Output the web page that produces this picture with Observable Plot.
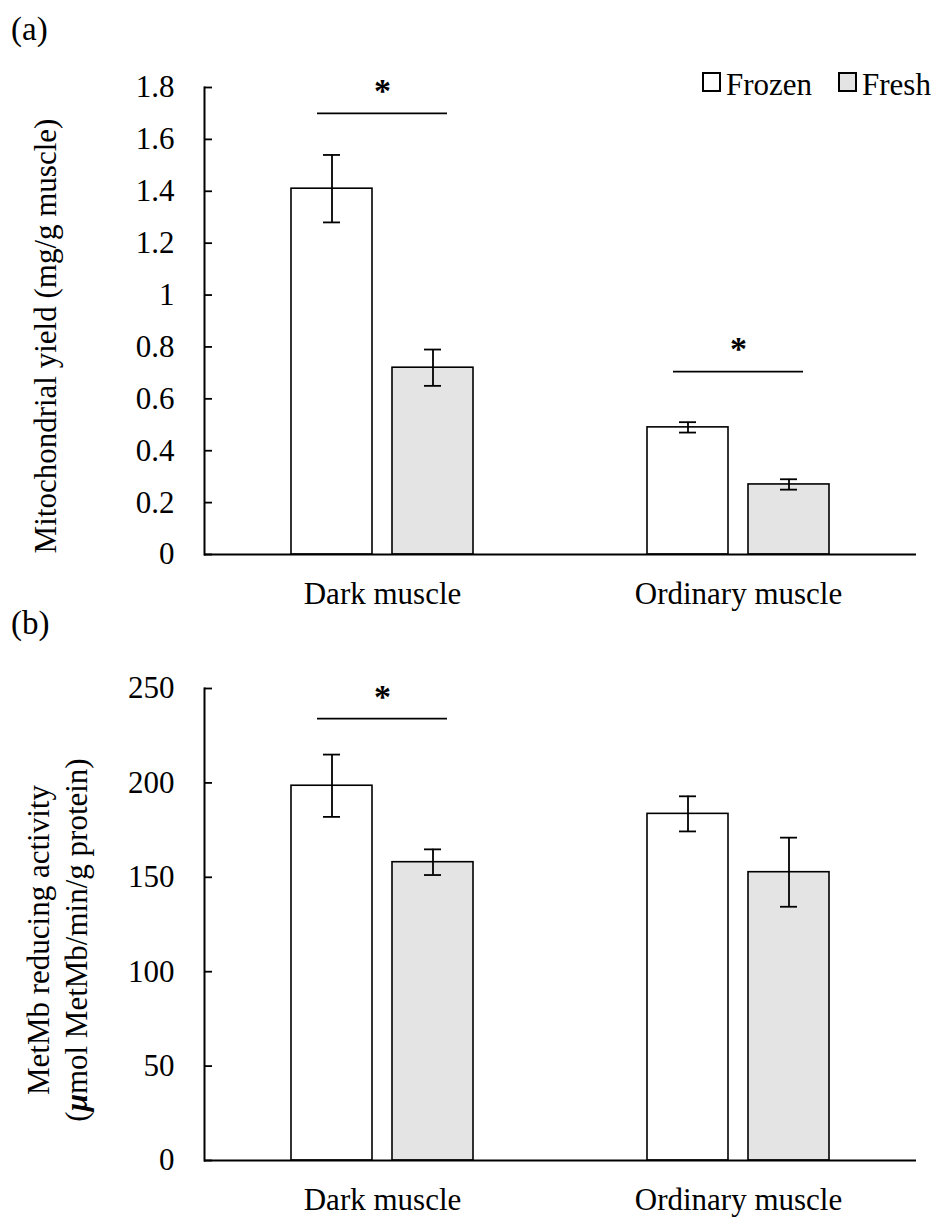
<!DOCTYPE html>
<html>
<head>
<meta charset="utf-8">
<script src="https://cdn.jsdelivr.net/npm/d3@7"></script>
<script src="https://cdn.jsdelivr.net/npm/@observablehq/plot@0.6"></script>
<style>
  html, body { margin: 0; padding: 0; background: #fff; }
  #wrap { position: relative; width: 938px; height: 1217px; font-family: "Liberation Serif", "Times New Roman", serif; color: #000; }
  .abs { position: absolute; white-space: nowrap; line-height: 1; }
  .rot { transform: translate(-50%, -50%) rotate(-90deg); text-align: center; }
  .sw { display: inline-block; width: 15px; height: 16px; border: 2px solid #000; }
</style>
</head>
<body>
<div id="wrap"></div>
<script>
// ---- data ----
const muscles = ["Dark muscle", "Ordinary muscle"];
const conditions = ["Frozen", "Fresh"];
const conditionFills = ["#ffffff", "#e4e4e4"];

// order: Dark-Frozen, Dark-Fresh, Ordinary-Frozen, Ordinary-Fresh
const yieldMean = [1.41, 0.72, 0.49, 0.27];
const yieldErr  = [0.13, 0.07, 0.02, 0.02];
const metmbMean = [198.5, 158.0, 183.6, 152.7];
const metmbErr  = [16.5, 6.8, 9.3, 18.3];

const yieldTicks = [0, 0.2, 0.4, 0.6, 0.8, 1, 1.2, 1.4, 1.6, 1.8];
const yieldTickLabels = ["0", "0.2", "0.4", "0.6", "0.8", "1", "1.2", "1.4", "1.6", "1.8"];
const metmbTicks = [0, 50, 100, 150, 200, 250];
const metmbTickLabels = ["0", "50", "100", "150", "200", "250"];

const sigMusclesA = ["Dark muscle", "Ordinary muscle"];
const sigYA = [1.70, 0.705];
const sigMusclesB = ["Dark muscle"];
const sigYB = [234];

const yTitleA = "Mitochondrial yield (mg/g muscle)";
const yTitleB1 = "MetMb reducing activity";
const yTitleB2 = "(<b><i>μ</i></b>mol MetMb/min/g protein)";

// ---- chart ----
const FONT = "'Liberation Serif', 'Times New Roman', serif";

function panel({means, errs, domain, ticks, labels, sigM, sigY, height, marginTop, marginBottom}) {
  const data = [];
  muscles.forEach((m, i) => conditions.forEach((c, j) => {
    data.push({muscle: m, cond: c, v: means[i * 2 + j], e: errs[i * 2 + j]});
  }));
  const sig = sigM.map((m, i) => ({muscle: m, y: sigY[i]}));
  return Plot.plot({
    width: 938,
    height,
    marginLeft: 204,
    marginRight: 22,
    marginTop,
    marginBottom,
    style: {fontFamily: FONT, fontSize: "31px", color: "#000", background: "transparent", overflow: "visible"},
    fx: {domain: muscles, padding: 0, label: null, axis: null},
    x: {domain: conditions, paddingInner: 0.2, paddingOuter: 0.86, axis: null},
    y: {domain, axis: null},
    color: {domain: conditions, range: conditionFills},
    marks: [
      Plot.barY(data, {fx: "muscle", x: "cond", y: "v", fill: "cond", stroke: "#000", strokeWidth: 1.6}),
      Plot.ruleX(data, {fx: "muscle", x: "cond", y1: d => d.v - d.e, y2: d => d.v + d.e, stroke: "#000", strokeWidth: 1.8}),
      Plot.tickY(data, {fx: "muscle", x: "cond", y: d => d.v + d.e, inset: 32, stroke: "#000", strokeWidth: 1.8}),
      Plot.tickY(data, {fx: "muscle", x: "cond", y: d => d.v - d.e, inset: 32, stroke: "#000", strokeWidth: 1.8}),
      Plot.ruleY(sig, {fx: "muscle", y: "y", x1: () => "Frozen", x2: () => "Fresh", insetLeft: 26, insetRight: 26, stroke: "#000", strokeWidth: 1.8}),
      Plot.text(sig, {fx: "muscle", y: "y", text: () => "*", dy: -22, fontSize: 34, fontWeight: "bold", fill: "#000"}),
      Plot.ruleY([0], {stroke: "#000", strokeWidth: 2}),
      Plot.frame({anchor: "left", facetAnchor: "left", stroke: "#000", strokeWidth: 2}),
      Plot.axisY(ticks, {anchor: "left", tickSize: -8, tickPadding: 38, tickFormat: (d) => labels[ticks.indexOf(d)], label: null, stroke: "#000", strokeWidth: 1.8, fontSize: 31}),
      Plot.axisFx({anchor: "bottom", tickSize: 0, tickPadding: 27, label: null, fontSize: 31})
    ]
  });
}

const wrap = document.getElementById("wrap");

const svgA = panel({means: yieldMean, errs: yieldErr, domain: [0, 1.8], ticks: yieldTicks, labels: yieldTickLabels,
  sigM: sigMusclesA, sigY: sigYA, height: 620, marginTop: 87, marginBottom: 66});
svgA.style.position = "absolute"; svgA.style.left = "0px"; svgA.style.top = "0px";
wrap.appendChild(svgA);

const svgB = panel({means: metmbMean, errs: metmbErr, domain: [0, 250], ticks: metmbTicks, labels: metmbTickLabels,
  sigM: sigMusclesB, sigY: sigYB, height: 597, marginTop: 68, marginBottom: 57});
svgB.style.position = "absolute"; svgB.style.left = "0px"; svgB.style.top = "620px";
wrap.appendChild(svgB);

function addDiv(html, css, cls = "abs") {
  const d = document.createElement("div");
  d.className = cls;
  d.innerHTML = html;
  Object.assign(d.style, css);
  wrap.appendChild(d);
  return d;
}

// panel labels
addDiv("(a)", {left: "11px", top: "13px", fontSize: "33px"});
addDiv("(b)", {left: "11px", top: "607px", fontSize: "33px"});

// y titles
addDiv(yTitleA, {left: "45px", top: "336px", fontSize: "31px"}, "abs rot");
addDiv(yTitleB1 + "<br>" + yTitleB2, {left: "58px", top: "940px", fontSize: "31px", lineHeight: "38px"}, "abs rot");

// legend
addDiv(`<span class="sw" style="background:${conditionFills[0]}"></span>`, {left: "702px", top: "72px"});
addDiv(conditions[0], {left: "726px", top: "69px", fontSize: "31px"});
addDiv(`<span class="sw" style="background:${conditionFills[1]}"></span>`, {left: "838px", top: "72px"});
addDiv(conditions[1], {left: "862px", top: "69px", fontSize: "31px"});
</script>
</body>
</html>
